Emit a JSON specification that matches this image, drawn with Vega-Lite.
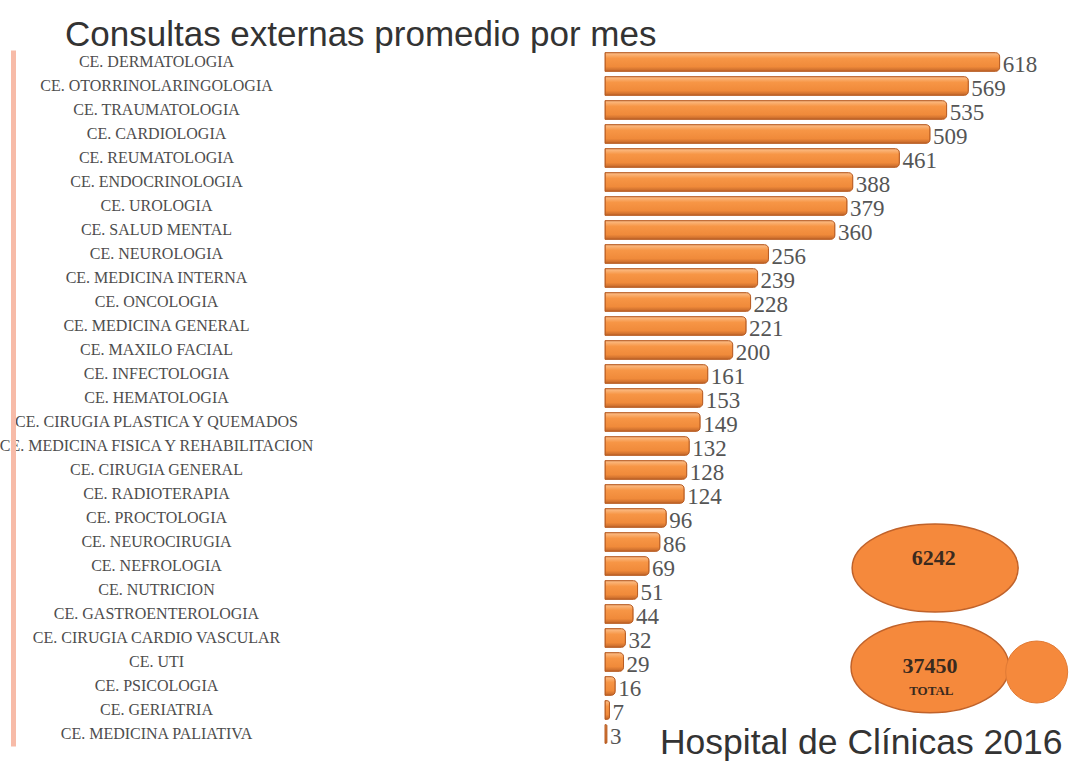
{
  "$schema": "https://vega.github.io/schema/vega-lite/v6.json",
  "autosize": {"type": "none"},
  "width": 447,
  "height": 696,
  "padding": {"left": 605, "top": 50, "right": 18, "bottom": 16},
  "background": "white",
  "config": {"view": {"stroke": null}},
  "title": {
    "text": "Consultas externas promedio por mes",
    "anchor": "start",
    "frame": "group",
    "dx": -540,
    "dy": 38,
    "offset": 7,
    "baseline": "alphabetic",
    "font": "Liberation Sans",
    "fontSize": 35,
    "fontWeight": "normal",
    "color": "#333333"
  },
  "datasets": {
    "main": [
      {"label": "CE. DERMATOLOGIA", "value": 618},
      {"label": "CE. OTORRINOLARINGOLOGIA", "value": 569},
      {"label": "CE. TRAUMATOLOGIA", "value": 535},
      {"label": "CE. CARDIOLOGIA", "value": 509},
      {"label": "CE. REUMATOLOGIA", "value": 461},
      {"label": "CE. ENDOCRINOLOGIA", "value": 388},
      {"label": "CE. UROLOGIA", "value": 379},
      {"label": "CE. SALUD MENTAL", "value": 360},
      {"label": "CE. NEUROLOGIA", "value": 256},
      {"label": "CE. MEDICINA INTERNA", "value": 239},
      {"label": "CE. ONCOLOGIA", "value": 228},
      {"label": "CE. MEDICINA GENERAL", "value": 221},
      {"label": "CE. MAXILO FACIAL", "value": 200},
      {"label": "CE. INFECTOLOGIA", "value": 161},
      {"label": "CE. HEMATOLOGIA", "value": 153},
      {"label": "CE. CIRUGIA PLASTICA Y QUEMADOS", "value": 149},
      {"label": "CE. MEDICINA FISICA Y REHABILITACION", "value": 132},
      {"label": "CE. CIRUGIA GENERAL", "value": 128},
      {"label": "CE. RADIOTERAPIA", "value": 124},
      {"label": "CE. PROCTOLOGIA", "value": 96},
      {"label": "CE. NEUROCIRUGIA", "value": 86},
      {"label": "CE. NEFROLOGIA", "value": 69},
      {"label": "CE. NUTRICION", "value": 51},
      {"label": "CE. GASTROENTEROLOGIA", "value": 44},
      {"label": "CE. CIRUGIA CARDIO VASCULAR", "value": 32},
      {"label": "CE. UTI", "value": 29},
      {"label": "CE. PSICOLOGIA", "value": 16},
      {"label": "CE. GERIATRIA", "value": 7},
      {"label": "CE. MEDICINA PALIATIVA", "value": 3}
    ]
  },
  "layer": [
    {
      "data": {"name": "main"},
      "mark": {
        "type": "bar",
        "cornerRadiusEnd": 4,
        "stroke": "#B85C22",
        "strokeWidth": 1,
        "color": {
          "gradient": "linear",
          "x1": 0, "y1": 0, "x2": 0, "y2": 1,
          "stops": [
            {"offset": 0, "color": "#FCC08C"},
            {"offset": 0.3, "color": "#F79646"},
            {"offset": 0.75, "color": "#F08A3A"},
            {"offset": 1, "color": "#C0652A"}
          ]
        }
      },
      "encoding": {
        "y": {
          "field": "label",
          "type": "nominal",
          "sort": null,
          "title": null,
          "scale": {
            "paddingInner": 0.22,
            "paddingOuter": 0.11,
            "domain": ["CE. DERMATOLOGIA", "CE. OTORRINOLARINGOLOGIA", "CE. TRAUMATOLOGIA", "CE. CARDIOLOGIA", "CE. REUMATOLOGIA", "CE. ENDOCRINOLOGIA", "CE. UROLOGIA", "CE. SALUD MENTAL", "CE. NEUROLOGIA", "CE. MEDICINA INTERNA", "CE. ONCOLOGIA", "CE. MEDICINA GENERAL", "CE. MAXILO FACIAL", "CE. INFECTOLOGIA", "CE. HEMATOLOGIA", "CE. CIRUGIA PLASTICA Y QUEMADOS", "CE. MEDICINA FISICA Y REHABILITACION", "CE. CIRUGIA GENERAL", "CE. RADIOTERAPIA", "CE. PROCTOLOGIA", "CE. NEUROCIRUGIA", "CE. NEFROLOGIA", "CE. NUTRICION", "CE. GASTROENTEROLOGIA", "CE. CIRUGIA CARDIO VASCULAR", "CE. UTI", "CE. PSICOLOGIA", "CE. GERIATRIA", "CE. MEDICINA PALIATIVA"]
          },
          "axis": {
            "offset": 592,
            "domainColor": "#F7BBA8",
            "domainWidth": 5,
            "ticks": false,
            "tickSize": 0,
            "labelPadding": -143,
            "labelAlign": "center",
            "labelLimit": 0,
            "labelFont": "Liberation Serif",
            "labelFontSize": 16,
            "labelColor": "#4d4d4d",
            "grid": false
          }
        },
        "x": {
          "field": "value",
          "type": "quantitative",
          "scale": {"domain": [0, 700], "nice": false},
          "axis": {
            "domain": false,
            "ticks": false,
            "labels": false,
            "grid": false,
            "title": "Hospital de Clínicas 2016",
            "titleFont": "Liberation Sans",
            "titleFontSize": 35.5,
            "titleFontWeight": "normal",
            "titleColor": "#333333",
            "titleAlign": "right",
            "titleBaseline": "alphabetic",
            "titleX": 457,
            "titleY": 7
          }
        }
      }
    },
    {
      "data": {"name": "main"},
      "mark": {
        "type": "text",
        "align": "left",
        "baseline": "middle",
        "dx": 3,
        "dy": 3,
        "font": "Liberation Serif",
        "fontSize": 23,
        "color": "#555555"
      },
      "encoding": {
        "y": {"field": "label", "type": "nominal", "sort": null, "title": null},
        "x": {"field": "value", "type": "quantitative", "scale": {"domain": [0, 700], "nice": false}},
        "text": {"field": "value", "type": "quantitative"}
      }
    },
    {
      "data": {"values": [{"label": "6242"}]},
      "mark": {
        "type": "point",
        "shape": "M-1,0 A1,0.53 0 1,1 1,0 A1,0.53 0 1,1 -1,0 Z",
        "size": 27556,
        "filled": true,
        "fill": "#F5893C",
        "stroke": "#C0622A",
        "strokeWidth": 1.5,
        "opacity": 1,
        "yOffset": 2
      },
      "encoding": {
        "x": {"datum": 517, "type": "quantitative", "scale": {"domain": [0, 700], "nice": false}},
        "y": {"datum": "CE. NEFROLOGIA", "type": "nominal", "title": null}
      }
    },
    {
      "data": {"values": [{"label": "37450"}]},
      "mark": {
        "type": "point",
        "shape": "M-1,0 A1,0.58 0 1,1 1,0 A1,0.58 0 1,1 -1,0 Z",
        "size": 24964,
        "filled": true,
        "fill": "#F5893C",
        "stroke": "#C0622A",
        "strokeWidth": 1.5,
        "opacity": 1,
        "yOffset": 5
      },
      "encoding": {
        "x": {"datum": 509, "type": "quantitative", "scale": {"domain": [0, 700], "nice": false}},
        "y": {"datum": "CE. UTI", "type": "nominal", "title": null}
      }
    },
    {
      "data": {"values": [{"label": ""}]},
      "mark": {
        "type": "point",
        "shape": "circle",
        "size": 3844,
        "filled": true,
        "fill": "#F5893C",
        "stroke": "#E07A35",
        "strokeWidth": 1,
        "opacity": 1,
        "yOffset": 10
      },
      "encoding": {
        "x": {"datum": 676, "type": "quantitative", "scale": {"domain": [0, 700], "nice": false}},
        "y": {"datum": "CE. UTI", "type": "nominal", "title": null}
      }
    },
    {
      "data": {"values": [{"label": "6242"}]},
      "mark": {
        "type": "text",
        "font": "Liberation Serif",
        "fontWeight": "bold",
        "fontSize": 22,
        "color": "#3a2a1e",
        "baseline": "middle",
        "align": "center",
        "yOffset": -8
      },
      "encoding": {
        "x": {"datum": 515, "type": "quantitative", "scale": {"domain": [0, 700], "nice": false}},
        "y": {"datum": "CE. NEFROLOGIA", "type": "nominal", "title": null},
        "text": {"field": "label", "type": "nominal"}
      }
    },
    {
      "data": {"values": [{"label": "37450"}]},
      "mark": {
        "type": "text",
        "font": "Liberation Serif",
        "fontWeight": "bold",
        "fontSize": 22,
        "color": "#3a2a1e",
        "baseline": "middle",
        "align": "center",
        "yOffset": 4
      },
      "encoding": {
        "x": {"datum": 509, "type": "quantitative", "scale": {"domain": [0, 700], "nice": false}},
        "y": {"datum": "CE. UTI", "type": "nominal", "title": null},
        "text": {"field": "label", "type": "nominal"}
      }
    },
    {
      "data": {"values": [{"label": "TOTAL"}]},
      "mark": {
        "type": "text",
        "font": "Liberation Serif",
        "fontWeight": "bold",
        "fontSize": 13,
        "color": "#3a2a1e",
        "baseline": "middle",
        "align": "center",
        "yOffset": 29
      },
      "encoding": {
        "x": {"datum": 511, "type": "quantitative", "scale": {"domain": [0, 700], "nice": false}},
        "y": {"datum": "CE. UTI", "type": "nominal", "title": null},
        "text": {"field": "label", "type": "nominal"}
      }
    }
  ]
}
